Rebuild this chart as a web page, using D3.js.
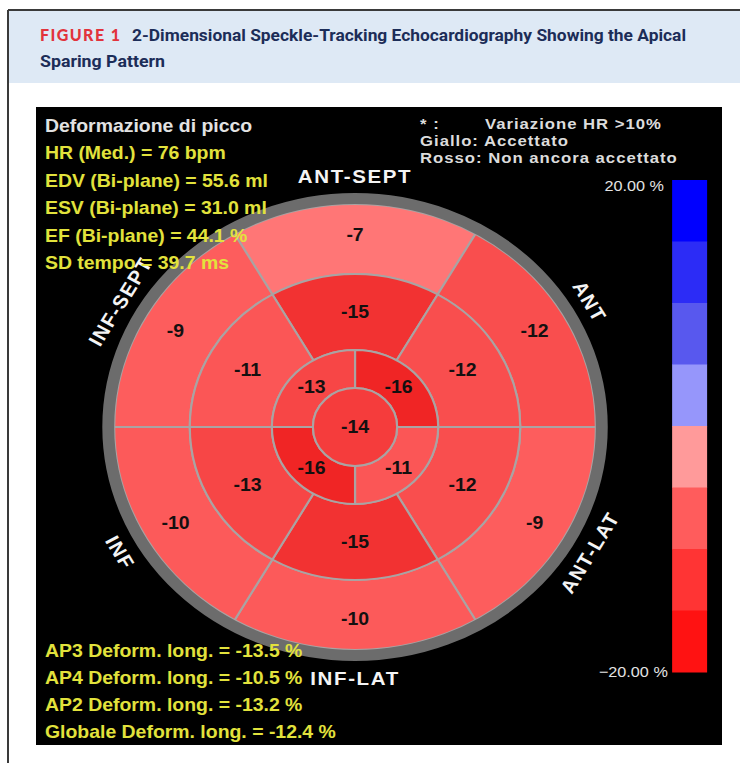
<!DOCTYPE html>
<html>
<head>
<meta charset="utf-8">
<script src="https://cdn.jsdelivr.net/npm/d3@7"></script>
<style>
  body { margin: 0; background: #fff; }
  svg { display: block; }
  .mono { font-family: "Liberation Sans", Arial, sans-serif; font-weight: bold; }
</style>
</head>
<body>
<div id="chart"></div>
<script>
// Peak longitudinal strain (%) per segment, bull's-eye
var walls = ["ANT-SEPT", "ANT", "ANT-LAT", "INF-LAT", "INF", "INF-SEPT"];
var basalValues = [-7, -12, -9, -10, -10, -9];
var midValues = [-15, -12, -12, -15, -13, -11];
var apicalValues = [-16, -11, -16, -13];   // clockwise from 12 o'clock
var apexValue = -14;

// Text blocks
var titleLabel = "Deformazione di picco";
var infoLabels = ["HR (Med.) = 76 bpm", "EDV (Bi-plane) = 55.6 ml", "ESV (Bi-plane) = 31.0 ml",
    "EF (Bi-plane) = 44.1 %", "SD tempo = 39.7 ms"];
var globalLabels = ["AP3 Deform. long. = -13.5 %", "AP4 Deform. long. = -10.5 %",
    "AP2 Deform. long. = -13.2 %", "Globale Deform. long. = -12.4 %"];
var legendLines = ["Giallo: Accettato", "Rosso: Non ancora accettato"];

// Colour bar
var scaleEdges = [20, 15, 10, 5, 0, -5, -10, -15, -20];
var scaleTicks = [20, -20];
var stepColors = ["#0000ff", "#2c2cf6", "#5858ee", "#9696fb", "#ff9a9a", "#ff5c5c", "#ff3434", "#ff1212"];

var svgWidth = 740;
var svgHeight = 763;

var svg = d3.select("#chart")
    .append("svg")
    .attr("width", svgWidth)
    .attr("height", svgHeight);

// Figure frame + header
svg.append("rect")
    .attr("x", 9).attr("y", 11)
    .attr("width", 731).attr("height", 72)
    .attr("fill", "#dee9f5");

svg.append("line")
    .attr("x1", 8).attr("x2", 740).attr("y1", 10).attr("y2", 10)
    .attr("stroke", "#3a3a3a").attr("stroke-width", 2);

svg.append("line")
    .attr("x1", 8).attr("x2", 8).attr("y1", 10).attr("y2", 763)
    .attr("stroke", "#3a3a3a").attr("stroke-width", 2);

svg.append("text")
    .attr("x", 40).attr("y", 41)
    .attr("textLength", 80)
    .attr("lengthAdjust", "spacing")
    .style("font-family", "Lato, 'Open Sans', sans-serif")
    .style("font-weight", "900")
    .style("font-size", "16px")
    .style("fill", "#e2333c")
    .text("FIGURE 1");

svg.append("text")
    .attr("x", 132).attr("y", 41)
    .attr("textLength", 554)
    .attr("lengthAdjust", "spacingAndGlyphs")
    .style("font-family", "Roboto, sans-serif")
    .style("font-weight", "bold")
    .style("font-size", "17px")
    .style("fill", "#1c2d58")
    .text("2-Dimensional Speckle-Tracking Echocardiography Showing the Apical");

svg.append("text")
    .attr("x", 40).attr("y", 67)
    .attr("textLength", 125)
    .attr("lengthAdjust", "spacingAndGlyphs")
    .style("font-family", "Roboto, sans-serif")
    .style("font-weight", "bold")
    .style("font-size", "17px")
    .style("fill", "#1c2d58")
    .text("Sparing Pattern");

// Echo screenshot panel (the original capture is stretched ~8% horizontally)
var stretch = 1.08;
var panelW = 686 / stretch;
var panelH = 638;

var panel = svg.append("g")
    .attr("transform", `translate(36, 107) scale(${stretch}, 1)`);

panel.append("rect")
    .attr("width", panelW)
    .attr("height", panelH)
    .attr("fill", "#000");

// Bull's-eye geometry
var cx = 295.4;
var cy = 320;
var rApex = 39, rApical = 77, rMid = 153, rBasal = 223, ringW = 11;

var colorScale = d3.scaleLinear()
    .domain([-17, -15, -13, -11, -9, -7])
    .range(["#ee1818", "#f23232", "#f74646", "#fb5656", "#fd5d5d", "#ff7676"])
    .clamp(true);

var deg = Math.PI / 180;

// Build the 17 segments from the value arrays
var segments = [];
basalValues.forEach(function(v, i) {
    segments.push({ value: v, r0: rMid, r1: rBasal, a0: (i * 60 - 30) * deg, a1: (i * 60 + 30) * deg, rl: 192 });
});
midValues.forEach(function(v, i) {
    segments.push({ value: v, r0: rApical, r1: rMid, a0: (i * 60 - 30) * deg, a1: (i * 60 + 30) * deg, rl: 115 });
});
apicalValues.forEach(function(v, i) {
    segments.push({ value: v, r0: rApex, r1: rApical, a0: (i * 90) * deg, a1: (i * 90 + 90) * deg, rl: 57 });
});
segments.push({ value: apexValue, r0: 0, r1: rApex, a0: 0, a1: 2 * Math.PI, rl: 0 });

var arc = d3.arc()
    .innerRadius(d => d.r0)
    .outerRadius(d => d.r1)
    .startAngle(d => d.a0)
    .endAngle(d => d.a1);

var eye = panel.append("g")
    .attr("transform", `translate(${cx}, ${cy})`);

eye.selectAll("path.seg")
    .data(segments)
    .enter()
    .append("path")
    .attr("class", "seg")
    .attr("d", arc)
    .attr("fill", d => colorScale(d.value))
    .attr("stroke", "#aaa3a3")
    .attr("stroke-width", 2);

// outer grey ring
eye.append("circle")
    .attr("r", rBasal + ringW / 2)
    .attr("fill", "none")
    .attr("stroke", "#6c6c6c")
    .attr("stroke-width", ringW);

// segment values
eye.selectAll("text.val")
    .data(segments)
    .enter()
    .append("text")
    .attr("class", "val mono")
    .attr("x", d => d.rl * Math.sin((d.a0 + d.a1) / 2))
    .attr("y", d => -d.rl * Math.cos((d.a0 + d.a1) / 2))
    .attr("dy", "0.35em")
    .style("font-size", "18px")
    .style("text-anchor", "middle")
    .style("fill", "#141010")
    .text(d => d.value);

// wall names around the ring
var rWall = 251;
eye.selectAll("text.wall")
    .data(walls)
    .enter()
    .append("text")
    .attr("class", "wall mono")
    .attr("transform", function(d, i) {
        var a = i * 60;
        var rot = (a > 90 && a < 270) ? a - 180 : (a >= 270 ? a - 360 : a);
        var x = rWall * Math.sin(a * deg);
        var y = -rWall * Math.cos(a * deg);
        return `translate(${x}, ${y}) rotate(${rot})`;
    })
    .attr("dy", "0.36em")
    .style("font-size", "19px")
    .style("letter-spacing", "1.5px")
    .style("text-anchor", "middle")
    .style("fill", "#f4f4f4")
    .text(d => d);

// Top-left info block
panel.append("text")
    .attr("class", "mono")
    .attr("x", 8.3).attr("y", 25)
    .style("font-size", "18px")
    .style("fill", "#e2e2e2")
    .text(titleLabel);

panel.selectAll("text.info")
    .data(infoLabels)
    .enter()
    .append("text")
    .attr("class", "info mono")
    .attr("x", 8.3)
    .attr("y", (d, i) => 52.5 + i * 27.5)
    .style("font-size", "18px")
    .style("fill", "#e2e23c")
    .text(d => d);

// Bottom-left global strain block
panel.selectAll("text.glob")
    .data(globalLabels)
    .enter()
    .append("text")
    .attr("class", "glob mono")
    .attr("x", 8.3)
    .attr("y", (d, i) => 550 + i * 27)
    .style("font-size", "18px")
    .style("fill", "#e2e23c")
    .text(d => d);

// Top-right legend
panel.append("text")
    .attr("class", "mono")
    .attr("x", 355.6).attr("y", 22)
    .style("font-size", "15.5px")
    .style("letter-spacing", "0.9px")
    .style("fill", "#dcdcdc")
    .text("* :");

panel.append("text")
    .attr("class", "mono")
    .attr("x", 415.7).attr("y", 22)
    .style("font-size", "15.5px")
    .style("letter-spacing", "0.9px")
    .style("fill", "#dcdcdc")
    .text("Variazione HR >10%");

panel.selectAll("text.leg")
    .data(legendLines)
    .enter()
    .append("text")
    .attr("class", "leg mono")
    .attr("x", 355.6)
    .attr("y", (d, i) => 39.5 + i * 17)
    .style("font-size", "15.5px")
    .style("letter-spacing", "0.9px")
    .style("fill", "#dcdcdc")
    .text(d => d);

// Colour bar
var barX = 589, barW = 32.4;
var yBar = d3.scaleLinear()
    .domain([20, -20])
    .range([73, 565]);

panel.selectAll("rect.step")
    .data(stepColors)
    .enter()
    .append("rect")
    .attr("class", "step")
    .attr("x", barX)
    .attr("y", (d, i) => yBar(scaleEdges[i]))
    .attr("width", barW)
    .attr("height", (d, i) => yBar(scaleEdges[i + 1]) - yBar(scaleEdges[i]) + 0.5)
    .attr("fill", d => d);

panel.selectAll("text.tick")
    .data(scaleTicks)
    .enter()
    .append("text")
    .attr("class", "tick")
    .attr("x", (d, i) => i === 0 ? 581.5 : 585)
    .attr("y", d => yBar(d) + (d > 0 ? 11 : 5))
    .style("font-family", "'Liberation Sans', Arial, sans-serif")
    .style("font-size", "15px")
    .style("text-anchor", "end")
    .style("fill", "#e4e4e4")
    .text(d => d3.format(".2f")(d) + " %");
</script>
</body>
</html>
